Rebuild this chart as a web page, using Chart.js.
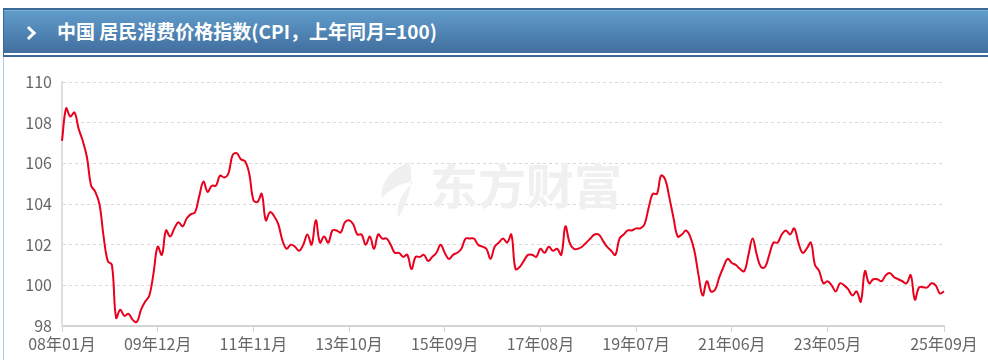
<!DOCTYPE html>
<html>
<head>
<meta charset="utf-8">
<script src="https://cdn.jsdelivr.net/npm/chart.js@4/dist/chart.umd.min.js"></script>
<style>
  html, body { margin: 0; padding: 0; background: #fff; }
  body { width: 988px; height: 360px; position: relative; overflow: hidden; font-family: "Noto Sans CJK SC", "Noto Sans", sans-serif; }
  .head {
    position: absolute; left: 3px; top: 8px; width: 990px; height: 45px;
    border-top: 2px solid #3a6898; border-left: 1px solid #3a6898; border-bottom: 2px solid #3a6898;
    background: linear-gradient(#619dcb, #3f6c9d);
    box-shadow: inset 0 -2px 0 #ffffff, inset 0 1px 0 #7fb0d8;
  }
  .head .chev {
    position: absolute; left: 20px; top: 18px; width: 7px; height: 7px;
    border-top: 3px solid #fff; border-right: 3px solid #fff; transform: rotate(45deg);
  }
  .head .title {
    position: absolute; left: 53px; top: 9px; color: #fff; font-weight: bold; font-size: 19px; line-height: 24px; white-space: nowrap;
  }
  .side { position: absolute; left: 3px; top: 57px; width: 1px; height: 303px; background: #a9cbe9; }
  .wrap { position: absolute; left: 0; top: 56px; width: 988px; height: 304px; }
</style>
</head>
<body>
<div class="head"><span class="chev"></span><span class="title">中国 居民消费价格指数(CPI，上年同月=100)</span></div>
<div class="side"></div>
<div class="wrap"><canvas id="c"></canvas></div>
<script>
  // monthly CPI, previous year same month = 100, 2008-01 .. 2025-09
  const cpi = [
    107.1, 108.7, 108.3, 108.5, 107.7, 107.1, 106.3, 104.9, 104.6, 104.0, 102.4, 101.2, // 2008
    101.0, 98.4, 98.8, 98.5, 98.6, 98.3, 98.2, 98.8, 99.2, 99.5, 100.6, 101.9,          // 2009
    101.5, 102.7, 102.4, 102.8, 103.1, 102.9, 103.3, 103.5, 103.6, 104.4, 105.1, 104.6, // 2010
    104.9, 104.9, 105.4, 105.3, 105.5, 106.4, 106.5, 106.2, 106.1, 105.5, 104.2, 104.1, // 2011
    104.5, 103.2, 103.6, 103.4, 103.0, 102.2, 101.8, 102.0, 101.9, 101.7, 102.0, 102.5, // 2012
    102.0, 103.2, 102.1, 102.4, 102.1, 102.7, 102.7, 102.6, 103.1, 103.2, 103.0, 102.5, // 2013
    102.5, 102.0, 102.4, 101.8, 102.5, 102.3, 102.3, 102.0, 101.6, 101.6, 101.4, 101.5, // 2014
    100.8, 101.4, 101.4, 101.5, 101.2, 101.4, 101.6, 102.0, 101.6, 101.3, 101.5, 101.6, // 2015
    101.8, 102.3, 102.3, 102.3, 102.0, 101.9, 101.8, 101.3, 101.9, 102.1, 102.3, 102.1, // 2016
    102.5, 100.8, 100.9, 101.2, 101.5, 101.5, 101.4, 101.8, 101.6, 101.9, 101.7, 101.8, // 2017
    101.5, 102.9, 102.1, 101.8, 101.8, 101.9, 102.1, 102.3, 102.5, 102.5, 102.2, 101.9, // 2018
    101.7, 101.5, 102.3, 102.5, 102.7, 102.7, 102.8, 102.8, 103.0, 103.8, 104.5, 104.5, // 2019
    105.4, 105.2, 104.3, 103.3, 102.4, 102.5, 102.7, 102.4, 101.7, 100.5, 99.5, 100.2,  // 2020
    99.7, 99.8, 100.4, 100.9, 101.3, 101.1, 101.0, 100.8, 100.7, 101.5, 102.3, 101.5,   // 2021
    100.9, 100.9, 101.5, 102.1, 102.1, 102.5, 102.7, 102.5, 102.8, 102.1, 101.6, 101.8, // 2022
    102.1, 101.0, 100.7, 100.1, 100.2, 100.0, 99.7, 100.1, 100.0, 99.8, 99.5, 99.7,     // 2023
    99.2, 100.7, 100.1, 100.3, 100.3, 100.2, 100.5, 100.6, 100.4, 100.3, 100.2, 100.1,  // 2024
    100.5, 99.3, 99.9, 99.9, 99.9, 100.1, 100.0, 99.6, 99.7                             // 2025
  ];
  const tickLabels = ['08年01月', '09年12月', '11年11月', '13年10月', '15年09月', '17年08月', '19年07月', '21年06月', '23年05月', '25年09月'];
  const yMin = 98, yMax = 110, yStep = 2;

  // month categories like "08年01月"
  const months = [];
  for (let i = 0; i < cpi.length; i++) {
    const y = 2008 + Math.floor(i / 12), m = i % 12 + 1;
    months.push(String(y % 100).padStart(2, '0') + '年' + String(m).padStart(2, '0') + '月');
  }

  const watermark = {
    id: 'watermark',
    beforeDatasetsDraw(chart) {
      const ctx = chart.ctx;
      ctx.save();
      ctx.fillStyle = '#f0f0f0';
      // rough flame logo
      ctx.beginPath();
      ctx.moveTo(410, 106);
      ctx.bezierCurveTo(392, 112, 380, 126, 382, 142);
      ctx.bezierCurveTo(394, 130, 404, 126, 414, 126);
      ctx.bezierCurveTo(402, 136, 396, 148, 398, 162);
      ctx.bezierCurveTo(408, 146, 414, 128, 410, 106);
      ctx.closePath();
      ctx.fill();
      ctx.font = 'bold 48px "Noto Sans CJK SC"';
      ctx.textBaseline = 'middle';
      ctx.fillText('东方财富', 430, 130);
      ctx.restore();
    }
  };

  new Chart(document.getElementById('c'), {
    type: 'line',
    data: {
      labels: months,
      datasets: [{
        data: cpi,
        borderColor: '#e8001d',
        borderWidth: 2,
        pointRadius: 0,
        tension: 0.4,
        fill: false
      }]
    },
    options: {
      responsive: true,
      maintainAspectRatio: false,
      animation: false,
      layout: { padding: { top: 26, right: 44, left: 0, bottom: 0 } },
      plugins: { legend: { display: false }, tooltip: { enabled: false } },
      scales: {
        x: {
          offset: false,
          afterFit(s) { s.height = 34; },
          border: { color: '#d4d4d4', width: 2 },
          grid: { drawOnChartArea: false, drawTicks: true, tickLength: 6, color: '#d4d4d4', lineWidth: 1 },
          ticks: {
            autoSkip: false, maxRotation: 0, minRotation: 0, padding: 2,
            color: '#666', font: { size: 16, family: '"Noto Sans CJK SC"' },
            callback(v, i) { const l = months[i]; return tickLabels.includes(l) ? l : null; }
          }
        },
        y: {
          min: yMin, max: yMax,
          afterFit(s) { s.width = 62; },
          border: { color: '#dedede', width: 2, dash: [3, 3] },
          grid: { color: '#d8d8d8', drawTicks: false },
          ticks: { stepSize: yStep, padding: 10, color: '#666', font: { size: 16, family: '"Noto Sans CJK SC"' } }
        }
      }
    },
    plugins: [watermark]
  });
</script>
</body>
</html>
